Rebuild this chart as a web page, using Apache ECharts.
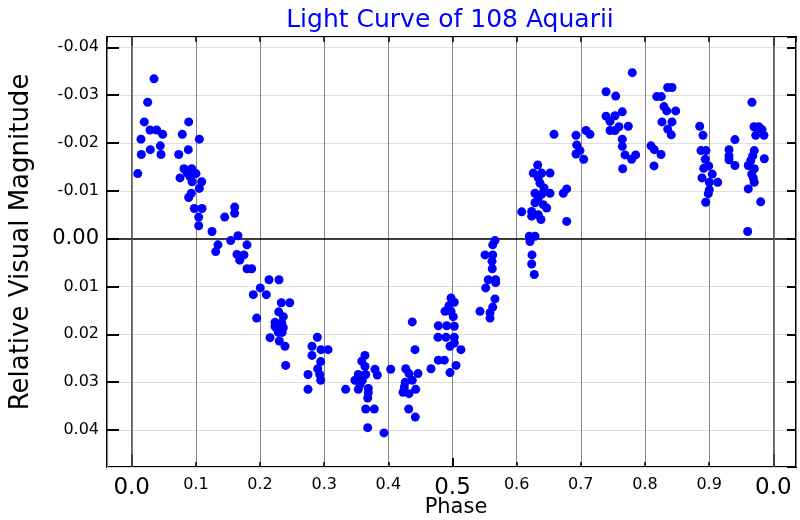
<!DOCTYPE html>
<html><head><meta charset="utf-8">
<script src="https://cdn.jsdelivr.net/npm/echarts@6/dist/echarts.min.js"></script>
<style>html,body{margin:0;padding:0;background:#fff}#c{width:800px;height:520px}</style>
</head><body><div id="c"></div>
<script>
// Phase of each observation
const phase = [
0.0348,0.0249,0.0196,0.0285,0.0390,0.0483,0.0145,0.0446,0.0290,0.0150,0.0457,0.0094,0.0888,0.0789,0.1054,0.0882,0.0733,0.0815,0.0935,0.0867,0.1002,0.0753,0.0909,0.0940,0.1091,0.1054,0.0929,0.0888,0.0976,0.1096,0.1044,0.1044,
0.1605,0.1605,0.1450,0.1252,0.1657,0.1543,0.1797,0.1345,0.1309,0.1641,0.1750,0.1683,0.1797,0.1870,0.2140,0.2296,0.2004,0.1895,0.2098,0.2332,0.2463,0.2291,0.1948,0.2363,0.2234,0.2338,0.2249,0.2363,0.2285,0.2156,0.2301,0.2389,0.2400,0.2345,0.2234,
0.2893,0.2810,0.2810,0.2950,0.3060,0.2946,0.2899,0.2748,0.2930,0.2946,0.2748,0.3335,0.3636,0.3585,0.3636,0.3792,0.4037,0.3532,0.3647,0.3828,0.3480,0.3594,0.3558,0.3688,0.3532,0.3688,0.3678,0.3647,0.3781,0.3678,0.3932,
0.4271,0.4322,0.4462,0.4373,0.4264,0.4249,0.4426,0.4229,0.4322,0.4317,0.4420,0.4373,0.4416,0.4665,0.4779,0.4872,0.4774,0.4899,0.5028,0.4779,0.4910,0.5028,0.4883,0.4977,0.4945,0.4977,0.5028,0.5012,0.4961,0.5028,0.5132,0.5055,0.4961,0.5429,
0.5662,0.5627,0.5507,0.5627,0.5616,0.5620,0.5558,0.5673,0.5673,0.5517,0.5662,0.5627,0.5585,0.5585,
0.6197,0.6286,0.6208,0.6239,0.6234,0.6275,0.6079,0.6234,0.6234,0.6337,0.6379,0.6286,0.6415,0.6468,0.6337,0.6286,0.6520,0.6390,0.6426,0.6364,0.6337,0.6259,0.6390,0.6520,0.6328,0.6780,0.6727,0.6780,0.6582,0.6925,0.6936,0.6987,0.6925,0.7045,0.7081,0.7143,
0.7393,0.7544,0.7393,0.7533,0.7647,0.7455,0.7455,0.7533,0.7595,0.7740,0.7647,0.7647,0.7689,0.7793,0.7855,0.7653,0.7802,0.8354,0.8421,0.8183,0.8254,0.8296,0.8339,0.8479,0.8265,0.8421,0.8354,0.8410,0.8094,0.8145,0.8250,0.8141,
0.8853,0.8904,0.8873,0.8951,0.8940,0.8993,0.8915,0.9049,0.8889,0.9003,0.9133,0.9003,0.8987,0.8946,0.9310,0.9310,0.9310,0.9403,0.9403,0.9668,0.9699,0.9772,0.9824,0.9726,0.9855,0.9704,0.9679,0.9648,0.9610,0.9704,0.9663,0.9688,0.9703,0.9860,0.9610,0.9804,0.9601
];
// Relative visual magnitude of each observation
const magnitude = [
-0.0334,-0.0285,-0.0244,-0.0227,-0.0227,-0.0218,-0.0208,-0.0194,-0.0186,-0.0176,-0.0176,-0.0136,-0.0244,-0.0218,-0.0208,-0.0186,-0.0176,-0.0146,-0.0146,-0.0137,-0.0136,-0.0127,-0.0130,-0.0119,-0.0119,-0.0105,-0.0095,-0.0086,-0.0063,-0.0063,-0.0045,-0.0027,
-0.0066,-0.0053,-0.0045,-0.0015,-0.0006,0.0004,0.0013,0.0013,0.0027,0.0033,0.0034,0.0045,0.0063,0.0063,0.0086,0.0086,0.0103,0.0117,0.0117,0.0134,0.0134,0.0153,0.0166,0.0163,0.0175,0.0176,0.0186,0.0186,0.0196,0.0207,0.0214,0.0225,0.0265,0.0196,0.0183,
0.0206,0.0225,0.0244,0.0232,0.0232,0.0257,0.0272,0.0284,0.0284,0.0296,0.0315,0.0315,0.0244,0.0256,0.0267,0.0273,0.0273,0.0284,0.0284,0.0285,0.0296,0.0296,0.0305,0.0313,0.0315,0.0322,0.0333,0.0356,0.0356,0.0395,0.0406,
0.0272,0.0282,0.0282,0.0296,0.0300,0.0310,0.0315,0.0321,0.0324,0.0356,0.0373,0.0174,0.0232,0.0272,0.0254,0.0254,0.0206,0.0206,0.0206,0.0182,0.0182,0.0183,0.0152,0.0152,0.0140,0.0124,0.0133,0.0163,0.0225,0.0218,0.0232,0.0265,0.0280,0.0152,
0.0004,0.0013,0.0034,0.0034,0.0047,0.0063,0.0086,0.0086,0.0092,0.0103,0.0126,0.0143,0.0155,0.0166,
-0.0005,-0.0005,0.0006,0.0034,0.0053,0.0075,-0.0056,-0.0057,-0.0047,-0.0050,-0.0040,-0.0075,-0.0071,-0.0064,-0.0085,-0.0095,-0.0095,-0.0093,-0.0106,-0.0116,-0.0127,-0.0137,-0.0137,-0.0137,-0.0154,-0.0036,-0.0095,-0.0104,-0.0218,-0.0216,-0.0196,-0.0184,-0.0177,-0.0166,-0.0226,-0.0218,
-0.0307,-0.0298,-0.0256,-0.0257,-0.0265,-0.0245,-0.0226,-0.0226,-0.0234,-0.0235,-0.0208,-0.0193,-0.0175,-0.0166,-0.0175,-0.0146,-0.0347,-0.0316,-0.0316,-0.0297,-0.0297,-0.0276,-0.0267,-0.0267,-0.0244,-0.0244,-0.0229,-0.0217,-0.0194,-0.0186,-0.0176,-0.0152,
-0.0235,-0.0216,-0.0184,-0.0184,-0.0166,-0.0152,-0.0147,-0.0135,-0.0127,-0.0118,-0.0118,-0.0102,-0.0094,-0.0076,-0.0186,-0.0173,-0.0165,-0.0207,-0.0153,-0.0285,-0.0234,-0.0234,-0.0228,-0.0216,-0.0216,-0.0184,-0.0173,-0.0163,-0.0153,-0.0146,-0.0135,-0.0127,-0.0118,-0.0167,-0.0104,-0.0077,-0.0015
];
const xMajorTicks = [0, 1];
const xMidTicks = [0.5];
const titleText = 'Light Curve of 108 Aquarii';
const xName = 'Phase';
const yName = 'Relative Visual Magnitude';

const FONT = 'DejaVu Sans';
const XMIN = -0.0385, XMAX = 1.0354, YMIN = -0.04215, YMAX = 0.04773;
const near = (v, t) => Math.abs(v - t) < 1e-6;
const isMult = (v, s) => { const r = v / s; return Math.abs(r - Math.round(r)) < 1e-6; };

const points = phase.map((p, i) => [p, magnitude[i]]);
const chart = echarts.init(document.getElementById('c'), null, {renderer: 'canvas'});

const baseX = {type: 'value', min: XMIN, max: XMAX, splitNumber: 10,
  axisLine: {show: false, onZero: false}, splitLine: {show: false}, axisLabel: {show: false}};
const baseY = {type: 'value', min: YMIN, max: YMAX, splitNumber: 9, inverse: true,
  axisLine: {show: false, onZero: false}, splitLine: {show: false}, axisLabel: {show: false}};

const option = {
  animation: false,
  backgroundColor: '#fff',
  grid: {left: 107, right: 4, top: 37, bottom: 53, show: true, borderColor: '#000', borderWidth: 2, backgroundColor: 'transparent'},
  xAxis: [
    Object.assign({}, baseX, {position: 'bottom',
      axisTick: {show: true, inside: true, length: 5, lineStyle: {color: '#000', width: 1.5}},
      splitLine: {show: true, lineStyle: {color: '#858585', width: 1}},
      axisLabel: {show: true, margin: 10, showMinLabel: false, showMaxLabel: false,
        formatter: v => (near(v, 0) || near(v, 1)) ? '{b|0.0}' : near(v, 0.5) ? '{b|0.5}' : isMult(v, 0.1) ? '{s|' + v.toFixed(1) + '}' : '',
        rich: {b: {fontSize: 23, fontFamily: FONT, color: '#000'}, s: {fontSize: 16, fontFamily: FONT, color: '#000'}}}}),
    Object.assign({}, baseX, {position: 'top',
      axisTick: {show: true, inside: true, length: 5, lineStyle: {color: '#000', width: 1.5}}}),
    Object.assign({}, baseX, {position: 'bottom',
      axisTick: {show: true, inside: true, length: 13, customValues: xMajorTicks, lineStyle: {color: '#000', width: 2}}}),
    Object.assign({}, baseX, {position: 'bottom',
      axisTick: {show: true, inside: true, length: 9, customValues: xMidTicks, lineStyle: {color: '#000', width: 2}}}),
    Object.assign({}, baseX, {position: 'top',
      axisTick: {show: true, inside: true, length: 9, customValues: xMajorTicks, lineStyle: {color: '#000', width: 2}}})
  ],
  yAxis: [
    Object.assign({}, baseY, {position: 'left',
      axisTick: {show: true, inside: true, length: 12, lineStyle: {color: '#000', width: 2}},
      splitLine: {show: true, lineStyle: {color: '#dedede', width: 1}},
      axisLabel: {show: true, margin: 8, showMinLabel: false, showMaxLabel: false,
        formatter: v => near(v, 0) ? '{b|0.00}' : isMult(v, 0.01) ? '{s|' + v.toFixed(2) + '}' : '',
        rich: {b: {fontSize: 21, fontFamily: FONT, color: '#000'}, s: {fontSize: 16, fontFamily: FONT, color: '#000'}}}}),
    Object.assign({}, baseY, {position: 'right',
      axisTick: {show: true, inside: true, length: 9, lineStyle: {color: '#000', width: 2}}})
  ],
  graphic: [
    {type: 'text', x: 450, y: 20, style: {text: titleText, fill: '#0000ff', fontSize: 25, fontFamily: FONT, align: 'center', verticalAlign: 'middle'}},
    {type: 'text', x: 456, y: 508, style: {text: xName, fill: '#000', fontSize: 21, fontFamily: FONT, align: 'center', verticalAlign: 'middle'}},
    {type: 'text', x: 21, y: 242, rotation: Math.PI / 2, style: {text: yName, fill: '#000', fontSize: 26, fontFamily: FONT, align: 'center', verticalAlign: 'middle'}}
  ],
  series: [
    {type: 'line', data: [], z: 1, xAxisIndex: 0, yAxisIndex: 0,
      markLine: {silent: true, symbol: 'none', label: {show: false}, animation: false,
        data: [
          {yAxis: 0, lineStyle: {color: '#000', width: 1.5, type: 'solid'}},
          {xAxis: 0, lineStyle: {color: '#555', width: 1.5, type: 'solid'}},
          {xAxis: 1, lineStyle: {color: '#555', width: 1.5, type: 'solid'}}
        ]}},
    {type: 'scatter', data: points, xAxisIndex: 0, yAxisIndex: 0, z: 5, clip: false,
      symbol: 'circle', symbolSize: 9, itemStyle: {color: '#0000ff', opacity: 1}}
  ]
};
chart.setOption(option);
</script>
</body></html>
